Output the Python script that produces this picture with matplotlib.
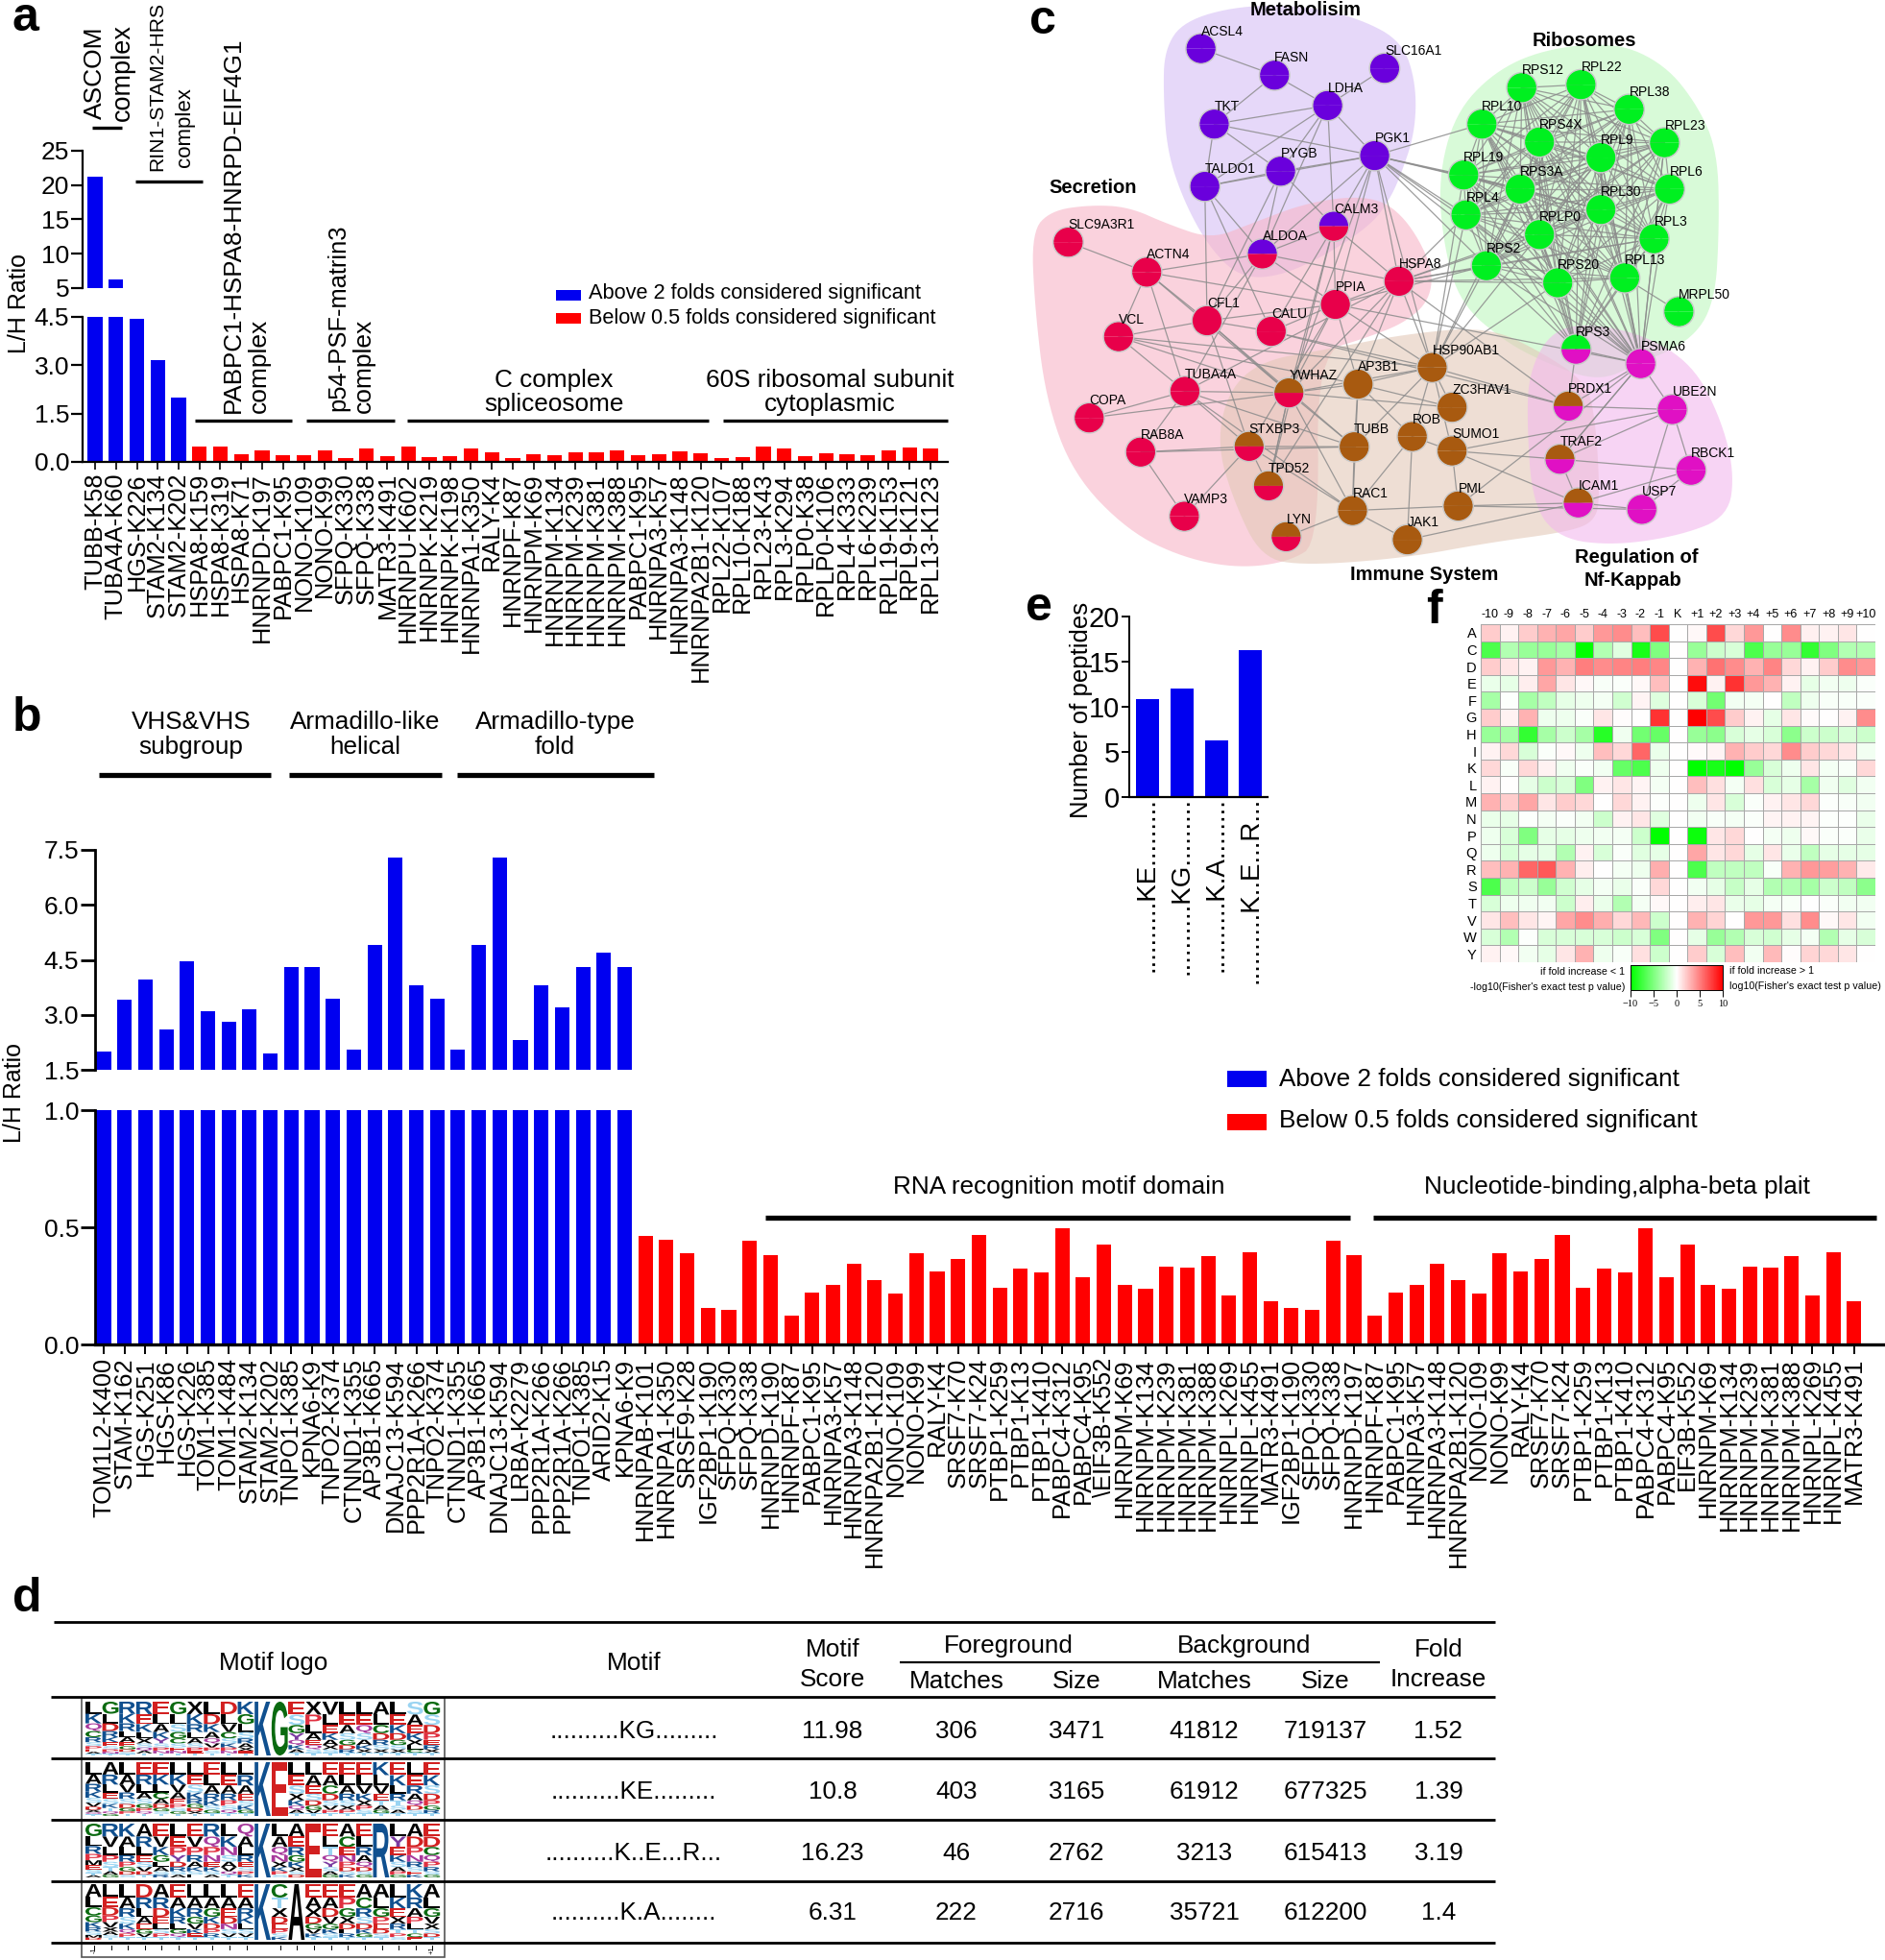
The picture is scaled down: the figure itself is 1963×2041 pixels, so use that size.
"""Multi panel figure: L/H ratio bars, interaction network, motif table and heatmap."""

from itertools import combinations

import matplotlib
matplotlib.use("Agg")
import matplotlib.pyplot as plt
from matplotlib.collections import LineCollection
from matplotlib.colors import LinearSegmentedColormap
from matplotlib.font_manager import FontProperties
from matplotlib.patches import Circle, PathPatch, Polygon, Rectangle, Wedge
from matplotlib.textpath import TextPath
from matplotlib.transforms import Affine2D

plt.rcParams["font.family"] = ["Liberation Sans", "DejaVu Sans"]
BLUE = "#0000f0"
RED = "#ff0000"
BIG = 18.8

# ---- panel a data
a_labels = ["TUBB-K58", "TUBA4A-K60", "HGS-K226", "STAM2-K134", "STAM2-K202", "HSPA8-K159", "HSPA8-K319",
            "HSPA8-K71", "HNRNPD-K197", "PABPC1-K95", "NONO-K109", "NONO-K99", "SFPQ-K330", "SFPQ-K338",
            "MATR3-K491", "HNRNPU-K602", "HNRNPK-K219", "HNRNPK-K198", "HNRNPA1-K350", "RALY-K4", "HNRNPF-K87",
            "HNRNPM-K69", "HNRNPM-K134", "HNRNPM-K239", "HNRNPM-K381", "HNRNPM-K388", "PABPC1-K95",
            "HNRNPA3-K57", "HNRNPA3-K148", "HNRNPA2B1-K120", "RPL22-K107", "RPL10-K188", "RPL23-K43", "RPL3-K294",
            "RPLP0-K38", "RPLP0-K106", "RPL4-K333", "RPL6-K239", "RPL19-K153", "RPL9-K121", "RPL13-K123"]
a_blue = [21.2, 6.3, 4.45, 3.17, 2.0]
a_red = [0.47, 0.48, 0.24, 0.37, 0.21, 0.21, 0.37, 0.12, 0.42, 0.18, 0.48, 0.14, 0.18, 0.43, 0.30, 0.12, 0.24, 0.22,
         0.31, 0.31, 0.37, 0.21, 0.24, 0.33, 0.26, 0.11, 0.15, 0.47, 0.43, 0.18, 0.28, 0.25, 0.20, 0.37, 0.45, 0.42]

# ---- panel b data
b_blue_labels = ["TOM1L2-K400", "STAM-K162", "HGS-K251", "HGS-K86", "HGS-K226", "TOM1-K385", "TOM1-K484",
                 "STAM2-K134", "STAM2-K202", "TNPO1-K385", "KPNA6-K9", "TNPO2-K374", "CTNND1-K355", "AP3B1-K665",
                 "DNAJC13-K594", "PPP2R1A-K266", "TNPO2-K374", "CTNND1-K355", "AP3B1-K665", "DNAJC13-K594",
                 "LRBA-K2279", "PPP2R1A-K266", "PPP2R1A-K266", "TNPO1-K385", "ARID2-K15", "KPNA6-K9"]
b_blue = [2.0, 3.4, 3.95, 2.6, 4.45, 3.1, 2.8, 3.15, 1.95, 4.3, 4.3, 3.45, 2.05, 4.9, 7.3, 3.8, 3.45, 2.05, 4.9, 7.3,
          2.3, 3.8, 3.2, 4.3, 4.7, 4.3]
b_red_labels = ["HNRNPAB-K101", "HNRNPA1-K350", "SRSF9-K28", "IGF2BP1-K190", "SFPQ-K330", "SFPQ-K338", "HNRNPD-K190",
                "HNRNPF-K87", "PABPC1-K95", "HNRNPA3-K57", "HNRNPA3-K148", "HNRNPA2B1-K120", "NONO-K109", "NONO-K99",
                "RALY-K4", "SRSF7-K70", "SRSF7-K24", "PTBP1-K259", "PTBP1-K13", "PTBP1-K410", "PABPC4-K312",
                "PABPC4-K95", "\\EIF3B-K552", "HNRNPM-K69", "HNRNPM-K134", "HNRNPM-K239", "HNRNPM-K381", "HNRNPM-K388",
                "HNRNPL-K269", "HNRNPL-K455", "MATR3-K491", "IGF2BP1-K190", "SFPQ-K330", "SFPQ-K338", "HNRNPD-K197",
                "HNRNPF-K87", "PABPC1-K95", "HNRNPA3-K57", "HNRNPA3-K148", "HNRNPA2B1-K120", "NONO-109", "NONO-K99",
                "RALY-K4", "SRSF7-K70", "SRSF7-K24", "PTBP1-K259", "PTBP1-K13", "PTBP1-K410", "PABPC4-K312",
                "PABPC4-K95", "EIF3B-K552", "HNRNPM-K69", "HNRNPM-K134", "HNRNPM-K239", "HNRNPM-K381", "HNRNPM-K388",
                "HNRNPL-K269", "HNRNPL-K455", "MATR3-K491"]
b_red = [0.464, 0.447, 0.39, 0.157, 0.146, 0.442, 0.38, 0.123, 0.22, 0.253, 0.344, 0.274, 0.217, 0.388, 0.31, 0.366,
         0.469, 0.24, 0.322, 0.308, 0.495, 0.285, 0.428, 0.256, 0.236, 0.333, 0.327, 0.379, 0.208, 0.395, 0.186, 0.157,
         0.146, 0.442, 0.38, 0.123, 0.22, 0.253, 0.344, 0.274, 0.217, 0.388, 0.31, 0.366, 0.469, 0.24, 0.322, 0.308,
         0.495, 0.285, 0.428, 0.256, 0.236, 0.333, 0.327, 0.379, 0.208, 0.395, 0.186]

# ---- panel e data
e_motifs = ["..........KE.........", "..........KG.........", "..........K.A........", "..........K..E...R..."]
e_counts = [10.8, 11.98, 6.31, 16.23]

# ---- panel f data (signed -log10 p value)
f_cols = ["-10", "-9", "-8", "-7", "-6", "-5", "-4", "-3", "-2", "-1", "K", "+1", "+2", "+3", "+4", "+5", "+6", "+7",
          "+8", "+9", "+10"]
f_rows = ["A", "C", "D", "E", "F", "G", "H", "I", "K", "L", "M", "N", "P", "Q", "R", "S", "T", "V", "W", "Y"]
f_values = [
    [2, 0.5, 2, 3, 3.5, 2, 4, 4.5, 2.5, 7, 0, 0.3, 7, 1.5, 4, 0, 4.5, 0.6, 0.5, 1, 0],
    [-7, -3, -4, -4, -3.5, -10, -3, -1.2, -9, -5, 0, -4, -2, -1.5, -7, -4, -4, -8, -5, -3, -3],
    [2, 1, 0.5, 4, 3, 5, 4.5, 4.8, 5, 4.7, 0, 3, 5.5, 4.5, 3, 4.8, 1.5, 0.5, 2, 4.5, 4],
    [-0.8, -1, 0.7, 3.5, 1, 0.3, -0.3, -0.2, 0.3, 2.5, 0, 9.5, 0.5, 8, 4, 3, 0.5, -1, -0.5, -0.7, -0.2],
    [-3.5, -0.1, -3.5, -2.5, -1, -0.7, -0.4, -1.8, 0.4, -1.3, 0, -1.5, -5.5, -0.5, -0.4, 0, -2.5, -0.7, -0.3, -0.3, -0.2],
    [2, 0.5, 3, -0.7, -0.7, -0.2, 1, 0.1, 0, 8, 0, 10, 7, 2, 0.5, -1, 1, 0.2, 0, 0.5, 4.5],
    [-4, -3.5, -8, -3.5, -2, -3.5, -8.5, -0.6, -5.5, -6, 0, -4, -4.5, -1.5, -1, -1.5, -4.5, -2, -2, -1.5, -2],
    [0.5, 1.5, -1.5, -0.2, 0.3, -0.7, 2.5, 1.5, 6, -0.8, 0, 0.2, 0.4, 3, 2, 1.5, 4.5, 2, 1.5, 1, -0.5],
    [1.5, -0.3, 1.5, 0.5, -0.6, -0.2, -0.5, -6, -7, -0.7, 0, -10, -9, -10, -4, -1.5, -0.7, 1, -0.4, -0.3, 1.5],
    [0.5, 0, -1, -2, -1.5, -5, 0.5, 1, 0.4, -0.4, 0, 2.5, 1.2, -0.4, 1.2, -1.5, -1, -3.5, -0.6, -1.2, -0.5],
    [3, 2, 3.5, 1, 2, 1.5, 0, 1.5, 0.5, -0.1, 0, -0.7, 1, -1.5, -0.2, 0.5, 1, 1.5, -0.1, -0.3, -0.5],
    [-0.8, -1, -0.1, -0.4, -0.2, -0.5, -2, 0.5, 1, -1.2, 0, -0.5, -0.3, -0.4, -0.2, 0.4, 0.5, 0.4, -0.1, -0.1, -0.8],
    [-0.7, -1.5, -5, -1, -1, -0.7, -0.5, -0.4, -2, -10, 0, -9.5, 1, 1.5, 0, -0.4, -0.7, 0.3, -0.2, -0.2, -0.8],
    [-0.7, -1.5, -1, -1, -3, 0.5, -1.5, -0.2, -1.2, -1, 0, 3.5, 1, 1.5, -1, 1, -0.8, -2.5, -1, -1, -1],
    [2.5, 3, 6, 6.5, 3, 0.7, 0, -0.4, -0.7, 3.2, 0, -7, -2.5, -2.5, -2.5, -0.3, 3, 4, 3.8, 3, 0.8],
    [-7, -2.5, -2, -4, -1.8, -1, -0.4, -0.8, -0.2, 1.5, 0, -0.5, -1, -2.2, -1, -3, -3, -3.5, -2, -2.5, -4.5],
    [-1.5, -0.7, -0.6, -0.5, -2, 0.7, -0.8, -3, -0.4, 0.3, 0, 0.7, 1, -0.8, -1, -0.4, -0.3, 0, -0.2, -0.5, -0.5],
    [1, 2.5, 1, 0.4, 3.5, 4.5, 3.2, 1.5, 2.8, -2, 0, 3, 1.7, 0, 4, 4, 1.2, 4.5, 0.3, 1, -0.5],
    [-1.5, -3, -0.1, -1.5, -1.5, -1.5, -1.5, -2, -1.5, -5, 0, -1, -4, -3, -1.5, -1.8, -1, -0.4, -3, -1, -1.5],
    [0.5, 0.3, -0.5, -1, 1, 3, -0.7, -0.3, 1.2, -2, 0, 2, -1.5, 2.5, -0.5, 2.7, 0.1, 1.7, 1.5, 1, 0],
]

# ---- panel d data
d_motifs = ["..........KG.........", "..........KE.........", "..........K..E...R...", "..........K.A........"]
d_score = ["11.98", "10.8", "16.23", "6.31"]
d_fg_matches = ["306", "403", "46", "222"]
d_fg_size = ["3471", "3165", "2762", "2716"]
d_bg_matches = ["41812", "61912", "3213", "35721"]
d_bg_size = ["719137", "677325", "615413", "612200"]
d_fold = ["1.52", "1.39", "3.19", "1.4"]
logo_kg = ["LKQCRSPEAT", "GLDRKESPNT", "RKRLAEGDST", "REKLXSQAT", "ELAKYSPNT", "GLSGCSENT", "XKRLASPET", "LDKAQVPST",
           "DLVCSKPNT", "KGLSRAXET", "K", "G", "ESGYQKAT", "XPLAEQST", "VLEKAXST", "LEASGDRT", "LEQSAKXT", "ALCDRSXT",
           "LEKDGSXT", "SAEKXLCT", "GSDPERXT"]
logo_ke = ["LARKSVDXQT", "ARLESKTQG", "LAVRSDGPT", "ERLASGPQT", "EKLCADGST", "LKVAEPSGT", "LESKRGDXT", "ELARKSGT",
           "LEARPSQT", "LRAESKGT", "K", "E", "LESXKQAT", "LAESDGVT", "EACDSVPT", "ELARSXPT", "ELVKXPST", "KLVETAGT",
           "EKLRTSAT", "LERAQDST", "EKSDPGRT"]
logo_kek = ["GLRPMESTA", "RVLPSTAG", "KALRPGDS", "ARLESVDT", "EVKGLASR", "LEPYDRSA", "EVPRAKSL", "RQPNEKSA", "LKNSAVQT",
            "QALRESPK", "K", "LAQNXKPS", "AERGKXSD", "E", "ELTQYSAG", "ACENPDSK", "ELRAQDSG", "R", "LYEKSAPG", "ADPNRSEK",
            "EDCQPRSG"]
logo_ka = ["ALCGKRSMD", "LEDPVXAST", "LARSKQPT", "DRLAEGVT", "ARDELSPT", "EAKRLGQT", "LARGVKET", "LAGKDPRT", "LAEDNSVT",
           "EARKLSVT", "K", "CTXDEPSK", "A", "EAXDGVKT", "EADVGKST", "EPGXDLRT", "ACRSDKGT", "ALGPEDST", "LKEXRTPS",
           "KRAPLTCE", "ALGVXSDT"]

# ---- panel c data, layout (node: x, y)
node_red = {"SLC9A3R1": (91, 638), "ACTN4": (233, 717), "VCL": (182, 887), "CFL1": (342, 845), "CALU": (458, 873),
            "PPIA": (574, 802), "HSPA8": (689, 741), "TUBA4A": (302, 1031), "COPA": (129, 1101), "RAB8A": (222, 1191),
            "VAMP3": (301, 1360)}
node_purple = {"ACSL4": (331, 128), "FASN": (464, 198), "SLC16A1": (663, 180), "LDHA": (560, 278), "TKT": (355, 327),
               "PGK1": (645, 410), "PYGB": (475, 451), "TALDO1": (338, 491)}
node_green = {"RPS12": (911, 231), "RPL22": (1018, 223), "RPL38": (1105, 288), "RPL10": (839, 327), "RPS4X": (943, 374),
              "RPL23": (1169, 376), "RPL9": (1054, 415), "RPL19": (806, 461), "RPS3A": (908, 498), "RPL6": (1178, 498),
              "RPL30": (1054, 552), "RPL4": (810, 566), "RPLP0": (943, 618), "RPL3": (1150, 629), "RPS2": (847, 700),
              "RPS20": (976, 745), "RPL13": (1097, 732), "MRPL50": (1195, 821)}
node_magenta = {"PSMA6": (1126, 958), "UBE2N": (1183, 1079), "RBCK1": (1217, 1239), "USP7": (1128, 1342)}
node_brown = {"HSP90AB1": (749, 968), "AP3B1": (615, 1012), "ZC3HAV1": (785, 1073), "TUBB": (608, 1177), "ROB": (713, 1150),
              "SUMO1": (785, 1188), "RAC1": (605, 1345), "PML": (796, 1333), "JAK1": (704, 1422)}
node_purple_red = {"ALDOA": (442, 669), "CALM3": (571, 596)}
node_green_magenta = {"RPS3": (1009, 920)}
node_brown_magenta = {"PRDX1": (995, 1070), "TRAF2": (980, 1210), "ICAM1": (1013, 1325)}
node_brown_red = {"YWHAZ": (490, 1035), "STXBP3": (418, 1176), "TPD52": (453, 1280), "LYN": (485, 1414)}

adjacency = {
    "ACSL4": ["FASN"], "FASN": ["TKT", "LDHA"], "SLC16A1": ["LDHA"],
    "LDHA": ["TKT", "PGK1", "TALDO1", "PYGB", "CALM3", "ALDOA"],
    "TKT": ["PGK1", "TALDO1", "PYGB"],
    "PGK1": ["PYGB", "TALDO1", "CALM3", "ALDOA", "HSPA8", "PPIA", "RPL19", "RPL10", "RPS2", "RPS3A", "RPL4", "RPS20",
             "RPL30", "PSMA6", "YWHAZ", "HSP90AB1"],
    "PYGB": ["TALDO1", "ALDOA", "CALM3", "CFL1"], "TALDO1": ["ALDOA", "CALU", "CFL1"],
    "ALDOA": ["CALM3", "ACTN4", "HSPA8", "PPIA", "CFL1", "TUBA4A"],
    "CALM3": ["HSPA8", "PPIA", "YWHAZ", "CALU", "TPD52"],
    "SLC9A3R1": ["ACTN4"], "ACTN4": ["VCL", "CFL1", "PPIA", "YWHAZ", "TUBA4A"],
    "VCL": ["CFL1", "TUBA4A", "YWHAZ", "AP3B1", "HSP90AB1"],
    "CFL1": ["CALU", "PPIA", "YWHAZ", "STXBP3", "TUBB"],
    "CALU": ["PPIA", "PRDX1", "HSP90AB1"],
    "PPIA": ["HSPA8", "RPS2", "YWHAZ", "AP3B1", "PSMA6", "HSP90AB1", "STXBP3"],
    "HSPA8": ["RPS2", "RPS20", "RPL13", "RPL3", "RPL4", "RPLP0", "YWHAZ", "AP3B1", "HSP90AB1", "PRDX1", "TUBA4A", "TPD52",
              "RPL30"],
    "TUBA4A": ["COPA", "RAB8A", "STXBP3", "RAC1", "TUBB", "YWHAZ"],
    "COPA": ["YWHAZ"], "RAB8A": ["STXBP3", "VAMP3", "TUBB"], "VAMP3": ["STXBP3"],
    "YWHAZ": ["AP3B1", "HSP90AB1", "TUBB", "TPD52", "RAC1", "ZC3HAV1"],
    "STXBP3": ["TPD52", "RAC1", "TUBB"], "TPD52": ["YWHAZ"], "LYN": ["RAC1"],
    "AP3B1": ["HSP90AB1", "TUBB", "ZC3HAV1", "ROB", "RAC1"],
    "HSP90AB1": ["TUBB", "ZC3HAV1", "SUMO1", "ROB", "PRDX1", "RPL19", "RPS2", "RPL4", "RPS3A", "RPS20", "RPL9"],
    "ROB": ["RAC1", "JAK1", "SUMO1"], "SUMO1": ["PML", "TRAF2", "ICAM1", "UBE2N"], "RAC1": ["JAK1", "PML", "TUBB"],
    "PML": ["ICAM1", "USP7", "PSMA6"], "JAK1": ["ICAM1"],
    "PRDX1": ["RPS3", "PSMA6", "UBE2N"], "TRAF2": ["UBE2N", "RBCK1", "PSMA6", "ICAM1"],
    "ICAM1": ["USP7", "RBCK1"], "PSMA6": ["UBE2N", "RPS3", "TRAF2"], "UBE2N": ["RBCK1", "USP7"], "RBCK1": ["USP7"],
    "MRPL50": ["RPL13"],
}

blob_metabolism = [(265, 130), (300, 55), (400, 15), (520, 15), (620, 50), (695, 110), (720, 220), (718, 350), (690, 470),
                   (670, 530), (640, 590), (560, 670), (470, 730), (400, 730), (345, 650), (300, 530), (270, 400), (263, 250)]
blob_secretion = [(25, 610), (60, 555), (130, 540), (200, 545), (270, 590), (350, 630), (420, 590), (530, 530), (640, 515),
                  (700, 570), (750, 700), (745, 790), (700, 850), (630, 890), (540, 930), (545, 1430), (490, 1480),
                  (400, 1497), (300, 1470), (200, 1400), (100, 1250), (50, 1050), (30, 800)]
blob_ribosomes = [(760, 470), (790, 300), (860, 190), (950, 130), (1080, 110), (1170, 170), (1230, 280), (1265, 400),
                  (1268, 600), (1260, 800), (1215, 900), (1120, 960), (1050, 1005), (960, 960), (880, 900), (800, 800),
                  (770, 650)]
blob_immune = [(360, 1170), (380, 1030), (440, 950), (560, 920), (700, 880), (850, 860), (950, 930), (1030, 1010),
               (1045, 1120), (1052, 1300), (1045, 1370), (1000, 1400), (850, 1430), (700, 1470), (520, 1490), (440, 1470),
               (390, 1320)]
blob_nfkb = [(920, 1100), (925, 980), (960, 880), (1020, 850), (1130, 880), (1220, 960), (1270, 1100), (1295, 1240),
             (1285, 1360), (1200, 1410), (1080, 1437), (980, 1420), (930, 1330)]

W, H = 1963, 2041
fig = plt.figure(figsize=(W / 100, H / 100), dpi=100)


def px_axes(left, top, right, bottom):
    # axes placed by pixel box of the image
    ax = fig.add_axes([left / W, 1 - bottom / H, (right - left) / W, (bottom - top) / H])
    ax.patch.set_visible(False)
    for s in ["top", "right"]:
        ax.spines[s].set_visible(False)
    return ax


def bar_panel(ax, xs, values, colors, first, step, left, right, width):
    ax.bar(xs, values, width=width, color=colors, linewidth=0)
    ax.set_xlim((left - first) / step, (right - first) / step)


# overlay in image pixels for texts, network and table
pix = fig.add_axes([0, 0, 1, 1], zorder=5)
pix.set_xlim(0, W)
pix.set_ylim(H, 0)
pix.axis("off")
pix.patch.set_visible(False)


def txt(x, y, s, size=BIG, ha="center", va="center", rot=0, **kw):
    pix.text(x, y, s, fontsize=size, ha=ha, va=va, rotation=rot, **kw)


def hline(x0, x1, y, lw=2.4):
    pix.plot([x0, x1], [y, y], color="black", lw=lw, solid_capstyle="butt")


for letter, lx, ly in [("a", 13, 19), ("b", 13, 748), ("c", 1072, 22), ("d", 13, 1665), ("e", 1068, 633), ("f", 1485, 636)]:
    txt(lx, ly, letter, size=36, ha="left", va="center", weight="bold")

# ---------------- panel a
a_vals = a_blue + a_red
a_x = list(range(len(a_vals)))
a_colors = [BLUE] * len(a_blue) + [RED] * len(a_red)
a_up = px_axes(86, 157, 987, 300)
bar_panel(a_up, a_x, a_vals, a_colors, 99, 21.75, 86, 987, 0.69)
a_up.set_ylim(5, 25)
a_up.set_yticks([5, 10, 15, 20, 25])
a_up.spines["bottom"].set_visible(False)
a_up.spines["left"].set_linewidth(1.6)
a_up.set_xticks([])
a_up.tick_params(axis="y", labelsize=19, length=9, width=1.6, pad=1)

a_low = px_axes(86, 330, 987, 481)
bar_panel(a_low, a_x, a_vals, a_colors, 99, 21.75, 86, 987, 0.69)
a_low.set_ylim(0, 4.5)
a_low.set_yticks([0, 1.5, 3.0, 4.5])
a_low.set_yticklabels(["0.0", "1.5", "3.0", "4.5"])
a_low.set_xticks(a_x)
a_low.set_xticklabels(a_labels, rotation=90, fontsize=18.3)
a_low.spines["left"].set_linewidth(1.6)
a_low.spines["bottom"].set_linewidth(1.6)
a_low.tick_params(axis="y", labelsize=19, length=9, width=1.6, pad=1)
a_low.tick_params(axis="x", length=6, width=1.2, pad=2)
txt(20, 316, "L/H Ratio", rot=90, size=18)

txt(99, 76, "ASCOM", rot=90, size=19)
txt(128, 75, "complex", rot=90, size=19.5)
hline(96, 127, 133)
txt(164, 90, "RIN1-STAM2-HRS", rot=90, size=15.2)
txt(192, 133, "complex", rot=90, size=16)
hline(141, 211, 188.5)
txt(243, 234, "PABPC1-HSPA8-HNRPD-EIF4G1", rot=90, size=18.7)
txt(270, 381, "complex", rot=90, size=19)
hline(203, 304, 437.6)
txt(352, 331, "p54-PSF-matrin3", rot=90, size=18.4)
txt(379, 381, "complex", rot=90, size=19)
hline(319, 411, 437.6)
txt(577, 396, "C complex")
txt(577, 421, "spliceosome")
hline(424, 738, 437.6)
txt(864, 396, "60S ribosomal subunit")
txt(864, 421, "cytoplasmic")
hline(753, 987, 437.6)
pix.add_patch(Rectangle((579, 302), 26, 11, fc=BLUE, lw=0))
pix.add_patch(Rectangle((579, 326), 26, 11, fc=RED, lw=0))
txt(613, 306, "Above 2 folds considered significant", size=15.7, ha="left")
txt(613, 332, "Below 0.5 folds considered significant", size=15.7, ha="left")

# ---------------- panel b
b_vals = b_blue + b_red
b_x = list(range(len(b_vals)))
b_colors = [BLUE] * len(b_blue) + [RED] * len(b_red)
b_up = px_axes(99, 885, 1961, 1114)
bar_panel(b_up, b_x, b_vals, b_colors, 108, 21.7, 99, 1961, 0.7)
b_up.set_ylim(1.5, 7.5)
b_up.set_yticks([1.5, 3.0, 4.5, 6.0, 7.5])
b_up.spines["bottom"].set_visible(False)
b_up.spines["left"].set_linewidth(2)
b_up.set_xticks([])
b_up.tick_params(axis="y", labelsize=19, length=11, width=2, pad=1)

b_low = px_axes(99, 1156, 1961, 1400)
bar_panel(b_low, b_x, b_vals, b_colors, 108, 21.7, 99, 1961, 0.7)
b_low.set_ylim(0, 1.0)
b_low.set_yticks([0, 0.5, 1.0])
b_low.set_yticklabels(["0.0", "0.5", "1.0"])
b_low.set_xticks(b_x)
b_low.set_xticklabels(b_blue_labels + b_red_labels, rotation=90, fontsize=18.3)
b_low.spines["left"].set_linewidth(2)
b_low.spines["bottom"].set_linewidth(2.4)
b_low.tick_params(axis="y", labelsize=19, length=11, width=2, pad=1)
b_low.tick_params(axis="x", length=7, width=1.4, pad=3)
txt(15, 1138, "L/H Ratio", rot=90, size=18)

for name, second, cx, x0, x1 in [("VHS&VHS", "subgroup", 199, 103, 282), ("Armadillo-like", "helical", 380, 301, 460),
                                 ("Armadillo-type", "fold", 578, 476, 681)]:
    txt(cx, 752, name)
    txt(cx, 778, second)
    hline(x0, x1, 807, lw=3.8)
txt(1103, 1236, "RNA recognition motif domain")
hline(797, 1406, 1268, lw=3.8)
txt(1684, 1236, "Nucleotide-binding,alpha-beta plait")
hline(1430, 1954, 1268, lw=3.8)
pix.add_patch(Rectangle((1278, 1115), 41, 17, fc=BLUE, lw=0))
pix.add_patch(Rectangle((1278, 1160), 41, 17, fc=RED, lw=0))
txt(1332, 1124, "Above 2 folds considered significant", ha="left")
txt(1332, 1167, "Below 0.5 folds considered significant", ha="left")

# ---------------- panel c
ZX, ZY = 1.736, 2.53


def zp(p):
    return (1060 + p[0] / ZX, p[1] / ZY)


def smooth(points, rounds=3):
    # corner cutting to get the soft blob outlines
    pts = [zp(p) for p in points]
    for _ in range(rounds):
        new = []
        for i, p in enumerate(pts):
            q = pts[(i + 1) % len(pts)]
            new.append((0.75 * p[0] + 0.25 * q[0], 0.75 * p[1] + 0.25 * q[1]))
            new.append((0.25 * p[0] + 0.75 * q[0], 0.25 * p[1] + 0.75 * q[1]))
        pts = new
    return pts


for blob, col in [(blob_metabolism, (0.84, 0.75, 0.96)), (blob_ribosomes, (0.745, 0.973, 0.745)),
                  (blob_secretion, (0.967, 0.71, 0.78)), (blob_immune, (0.89, 0.79, 0.72)),
                  (blob_nfkb, (0.95, 0.72, 0.93))]:
    pix.add_patch(Polygon(smooth(blob), closed=True, fc=col, alpha=0.6, lw=0, zorder=1))

positions = {}
for group in [node_red, node_purple, node_green, node_magenta, node_brown, node_purple_red, node_green_magenta,
              node_brown_magenta, node_brown_red]:
    for k, v in group.items():
        positions[k] = zp(v)

segments = []
for a, targets in adjacency.items():
    for b in targets:
        segments.append([positions[a], positions[b]])
ribosome_core = [k for k in node_green if k != "MRPL50"]
for a, b in combinations(ribosome_core, 2):
    segments.append([positions[a], positions[b]])
for hub in ["RPS3", "PSMA6"]:
    for b in ribosome_core:
        segments.append([positions[hub], positions[b]])
pix.add_collection(LineCollection(segments, colors="#8c8c8c", linewidths=0.9, alpha=0.85, zorder=2))

C_RED, C_PURPLE, C_GREEN, C_MAGENTA, C_BROWN = "#e8004a", "#6a00dc", "#00f020", "#e010c4", "#a85a10"
for group, top, bottom in [(node_red, C_RED, C_RED), (node_purple, C_PURPLE, C_PURPLE), (node_green, C_GREEN, C_GREEN),
                           (node_magenta, C_MAGENTA, C_MAGENTA), (node_brown, C_BROWN, C_BROWN),
                           (node_purple_red, C_PURPLE, C_RED), (node_green_magenta, C_GREEN, C_MAGENTA),
                           (node_brown_magenta, C_BROWN, C_MAGENTA), (node_brown_red, C_BROWN, C_RED)]:
    for name in group:
        x, y = positions[name]
        pix.add_patch(Wedge((x, y), 15.5, 180, 360, fc=top, lw=0, zorder=3))
        pix.add_patch(Wedge((x, y), 15.5, 0, 180, fc=bottom, lw=0, zorder=3))
        pix.add_patch(Circle((x, y), 15.8, fc="none", ec="#c8c8c8", lw=1, zorder=3))
        txt(x, y - 18, name, size=10, ha="left", zorder=4)

for s, zx, zy in [("Metabolisim", 520, 27), ("Ribosomes", 1024, 108), ("Secretion", 135, 495), ("Immune System", 735, 1513),
                  ("Regulation of", 1118, 1468), ("Nf-Kappab", 1112, 1530)]:
    px_, py_ = zp((zx, zy))
    txt(px_, py_, s, size=14.5, weight="bold")

# ---------------- panel e
e_ax = px_axes(1176, 642, 1320, 830)
bar_panel(e_ax, [0, 1, 2, 3], e_counts, BLUE, 1195, 35.8, 1176, 1320, 0.67)
e_ax.set_ylim(0, 20)
e_ax.set_yticks([0, 5, 10, 15, 20])
e_ax.set_xticks([0, 1, 2, 3])
e_ax.set_xticklabels(e_motifs, rotation=90, fontsize=20)
e_ax.tick_params(axis="x", length=0, pad=0)
e_ax.tick_params(axis="y", labelsize=21, length=6, width=1.4, pad=1)
e_ax.spines["left"].set_linewidth(1.4)
e_ax.spines["bottom"].set_linewidth(1.6)
txt(1126, 739, "Number of peptides", rot=90, size=18.5)

# ---------------- panel f
green_red = LinearSegmentedColormap.from_list("gwr", ["#00ff00", "#ffffff", "#ff0000"])
f_ax = px_axes(1542, 650, 1953, 1002)
mesh = f_ax.pcolormesh(f_values, cmap=green_red, vmin=-10, vmax=10, edgecolors="#a8a8a8", linewidth=0.7)
f_ax.set_ylim(len(f_rows), 0)
for s in f_ax.spines.values():
    s.set_visible(False)
f_ax.set_xticks([i + 0.5 for i in range(len(f_cols))])
f_ax.set_xticklabels(f_cols, fontsize=9)
f_ax.xaxis.tick_top()
f_ax.set_yticks([i + 0.5 for i in range(len(f_rows))])
f_ax.set_yticklabels(f_rows, fontsize=10.5)
f_ax.tick_params(length=0, pad=3)

cax = px_axes(1698, 1005, 1794, 1031)
cbar = fig.colorbar(mesh, cax=cax, orientation="horizontal")
cbar.set_ticks([-10, -5, 0, 5, 10])
cbar.ax.tick_params(labelsize=7.5, length=5, width=0.7, pad=2)
for t in cbar.ax.get_xticklabels():
    t.set_family("Liberation Serif")
cbar.outline.set_linewidth(0.7)
txt(1692, 1012, "if fold increase < 1", size=7.7, ha="right")
txt(1692, 1028, "-log10(Fisher's exact test p value)", size=7.7, ha="right")
txt(1801, 1011, "if fold increase > 1", size=7.7, ha="left")
txt(1801, 1027, "log10(Fisher's exact test p value)", size=7.7, ha="left")

# ---------------- panel d
for y in [1689, 1767, 1831, 1895, 1959, 2023]:
    hline(53 if y != 1689 else 56, 1557, y, lw=2)
hline(937, 1437, 1731, lw=1.6)
txt(285, 1732, "Motif logo")
txt(660, 1732, "Motif")
txt(867, 1718, "Motif")
txt(867, 1749, "Score")
txt(1050, 1714, "Foreground")
txt(1296, 1714, "Background")
for cx, s in [(996, "Matches"), (1121, "Size"), (1254, "Matches"), (1380, "Size")]:
    txt(cx, 1751, s)
txt(1498, 1718, "Fold")
txt(1498, 1749, "Increase")

row_y = [1803, 1866, 1930, 1992]
for i, y in enumerate(row_y):
    txt(660, y, d_motifs[i])
    txt(867, y, d_score[i])
    txt(996, y, d_fg_matches[i])
    txt(1121, y, d_fg_size[i])
    txt(1254, y, d_bg_matches[i])
    txt(1380, y, d_bg_size[i])
    txt(1498, y, d_fold[i])

# motif logos, letters squeezed into their stack position
logo_colors = {"K": "#10508f", "R": "#10508f", "H": "#a0d8f4", "E": "#d22020", "D": "#d22020", "P": "#e03040",
               "G": "#0a6a10", "C": "#0a6a10", "S": "#9ad4f2", "T": "#9ad4f2", "Q": "#a83a9c", "N": "#a83a9c",
               "Y": "#7a3aa0"}
logo_font = FontProperties(family="Liberation Sans", weight="bold")
pix.add_patch(Rectangle((85, 1768), 378, 270, fc="none", ec="#555555", lw=1.2, zorder=1))


def draw_logo(columns, top, bottom):
    col_w = 370 / 21
    for c, letters in enumerate(columns):
        weights = [0.8 ** k for k in range(len(letters))]
        y = top
        for ch, wgt in zip(letters, weights):
            h = (bottom - top) * wgt / sum(weights)
            path = TextPath((0, 0), ch, size=1, prop=logo_font)
            box = path.get_extents()
            trans = (Affine2D().translate(-box.x0, -box.y0).scale((col_w - 0.8) / box.width, -h / box.height)
                     .translate(89 + c * col_w, y + h))
            pix.add_patch(PathPatch(path.transformed(trans), fc=logo_colors.get(ch, "black"), lw=0, zorder=2))
            y += h


draw_logo(logo_kg, 1772, 1828)
draw_logo(logo_ke, 1835, 1891)
draw_logo(logo_kek, 1899, 1955)
draw_logo(logo_ka, 1962, 2020)
for c in range(21):
    if c != 10:
        pix.plot([98 + c * 370 / 21] * 2, [2026, 2030], color="black", lw=0.7)
txt(98, 2031, "-1", size=5.5, rot=90)
txt(98 + 20 * 370 / 21, 2031, "+1", size=5.5, rot=90)

fig.savefig("out.png", dpi=100)
